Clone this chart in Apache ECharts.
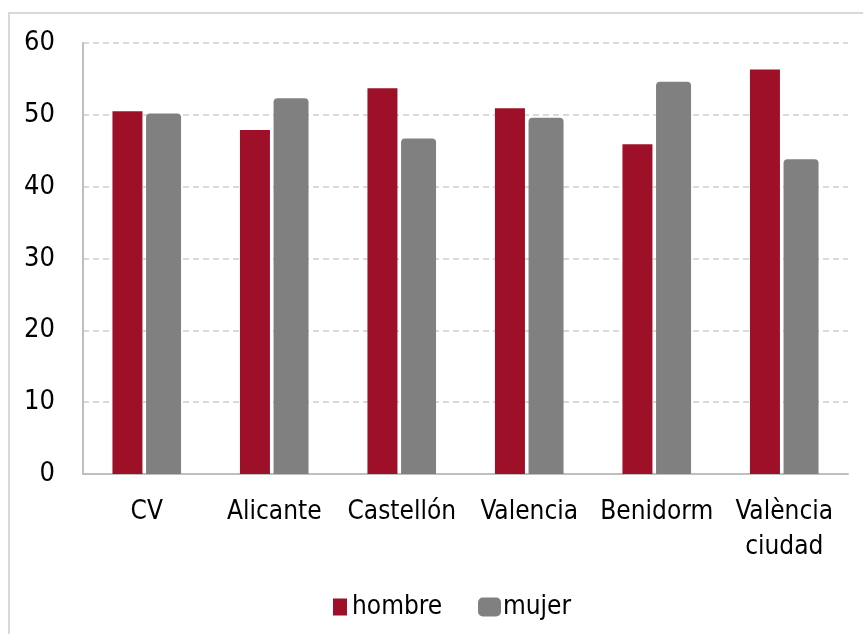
<!DOCTYPE html>
<html>
<head>
<meta charset="utf-8">
<script src="https://cdn.jsdelivr.net/npm/echarts@6/dist/echarts.min.js"></script>
<style>
  html, body { margin: 0; padding: 0; background: #fff; }
  #frame { position: absolute; left: 8px; top: 12px; width: 900px; height: 700px;
           border-left: 2px solid #d9d9d9; border-top: 2px solid #d9d9d9; }
  #chart { position: absolute; left: 0; top: 0; width: 863px; height: 634px; }
</style>
</head>
<body>
<div id="frame"></div>
<div id="chart"></div>
<script>
// categorías y valores (%)
var categories = ['CV', 'Alicante', 'Castellón', 'Valencia', 'Benidorm', 'València\nciudad'];
var hombre = [50.5, 47.9, 53.7, 50.9, 45.9, 56.3];
var mujer = [50.2, 52.3, 46.7, 49.6, 54.6, 43.8];
var yTicks = [0, 10, 20, 30, 40, 50, 60];

var RED = '#9e1027';
var GREY = '#808080';
var FONT = '"DejaVu Sans Condensed", "DejaVu Sans", sans-serif';

var chart = echarts.init(document.getElementById('chart'));

var option = {
	animation: false,
	grid: { left: 83, right: 15, top: 43, bottom: 160 },
	legend: [
		{
			data: [{ name: 'hombre', icon: 'rect' }],
			left: 328, top: 589,
			itemWidth: 14, itemHeight: 17, itemGap: 0,
			textStyle: { fontFamily: FONT, fontSize: 26, color: '#000', padding: [0, 0, 0, 0] }
		},
		{
			data: [{ name: 'mujer', icon: 'roundRect' }],
			left: 473, top: 589,
			itemWidth: 23, itemHeight: 19, itemGap: 0,
			textStyle: { fontFamily: FONT, fontSize: 26, color: '#000', padding: [0, 0, 0, -3] }
		}
	],
	xAxis: {
		type: 'category',
		data: categories,
		axisLine: { lineStyle: { color: '#bfbfbf', width: 2 } },
		axisTick: { show: false },
		axisLabel: {
			interval: 0,
			margin: 21,
			lineHeight: 35,
			fontFamily: FONT,
			fontSize: 26,
			color: '#000'
		}
	},
	yAxis: {
		type: 'value',
		min: yTicks[0],
		max: yTicks[yTicks.length - 1],
		interval: 10,
		axisLine: { show: true, lineStyle: { color: '#bfbfbf', width: 2 } },
		axisTick: { show: false },
		axisLabel: { margin: 28, fontFamily: FONT, fontSize: 27, color: '#000' },
		splitLine: { lineStyle: { color: '#d9d9d9', type: [6, 4], width: 2 } }
	},
	series: [
		{
			name: 'hombre',
			type: 'bar',
			data: hombre,
			barWidth: 30,
			barGap: '12%',
			itemStyle: { color: RED }
		},
		{
			name: 'mujer',
			type: 'bar',
			data: mujer,
			barWidth: 35,
			itemStyle: { color: GREY, borderRadius: [4, 4, 0, 0] }
		}
	]
};

chart.setOption(option);
</script>
</body>
</html>
